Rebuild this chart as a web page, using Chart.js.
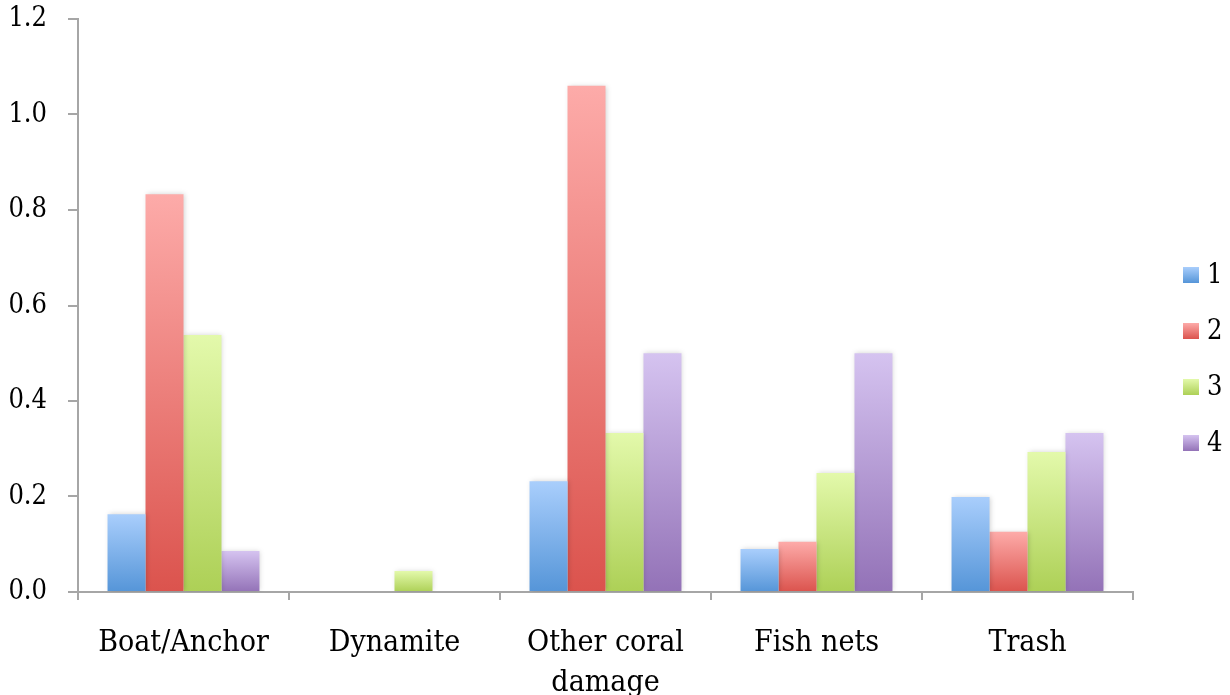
<!DOCTYPE html>
<html>
<head>
<meta charset="utf-8">
<script src="https://cdn.jsdelivr.net/npm/chart.js@4/dist/chart.umd.min.js"></script>
<style>
  html, body { margin: 0; padding: 0; background: #fff; }
  #wrap { width: 1230px; height: 695px; }
</style>
</head>
<body>
<div id="wrap"><canvas id="damageChart"></canvas></div>
<script>
// categories and series
var categories = ["Boat/Anchor", "Dynamite", ["Other coral", "damage"], "Fish nets", "Trash"];
var seriesNames = ["1", "2", "3", "4"];
var series1 = [0.163, 0, 0.232, 0.090, 0.199];
var series2 = [0.833, 0, 1.060, 0.105, 0.126];
var series3 = [0.538, 0.044, 0.333, 0.249, 0.293];
var series4 = [0.086, 0, 0.500, 0.500, 0.333];
var yTicks = [0, 0.2, 0.4, 0.6, 0.8, 1.0, 1.2];

// light top / dark bottom for each series
var topColors = ["#a9cefc", "#fdaba9", "#e3f9ab", "#d5c3f0"];
var bottomColors = ["#5595d8", "#db534d", "#add056", "#9372b7"];

var fontFamily = "'DejaVu Serif Condensed', 'DejaVu Serif', serif";
var axisGray = "#a6a6a6";

function barGradient(i) {
    return function (ctx) {
        var chart = ctx.chart;
        var y = chart.scales.y;
        if (!chart.chartArea || !y || ctx.raw === undefined) return bottomColors[i];
        var top = y.getPixelForValue(ctx.raw);
        var base = y.getPixelForValue(0);
        if (base - top < 1) return bottomColors[i];
        var g = chart.ctx.createLinearGradient(0, top, 0, base);
        g.addColorStop(0, topColors[i]);
        g.addColorStop(1, bottomColors[i]);
        return g;
    };
}

var allSeries = [series1, series2, series3, series4];
var datasets = allSeries.map(function (data, i) {
    return {
        label: seriesNames[i],
        data: data,
        backgroundColor: barGradient(i),
        borderWidth: 0,
        categoryPercentage: 0.72,
        barPercentage: 1.0
    };
});

// soft halo around the bars
var barShadow = {
    id: "barShadow",
    beforeDatasetsDraw: function (chart) {
        var c = chart.ctx;
        c.save();
        c.shadowColor = "rgba(0,0,0,0.18)";
        c.shadowBlur = 5;
        c.shadowOffsetX = 1;
        c.shadowOffsetY = 0;
    },
    afterDatasetsDraw: function (chart) {
        chart.ctx.restore();
    }
};

// legend on the right, drawn by hand so it can sit away from the plot
var sideLegend = {
    id: "sideLegend",
    afterDraw: function (chart) {
        var c = chart.ctx;
        var x = chart.chartArea.right + 50;
        var y0 = 275;
        var step = 56;
        c.save();
        c.font = "27px " + fontFamily;
        c.textBaseline = "middle";
        seriesNames.forEach(function (name, i) {
            var cy = y0 + i * step;
            var g = c.createLinearGradient(0, cy - 8, 0, cy + 8);
            g.addColorStop(0, topColors[i]);
            g.addColorStop(1, bottomColors[i]);
            c.fillStyle = g;
            c.fillRect(x, cy - 8, 16, 16);
            c.fillStyle = "#000";
            c.fillText(name, x + 24, cy + 1);
        });
        c.restore();
    }
};

new Chart(document.getElementById("damageChart").getContext("2d"), {
    type: "bar",
    data: { labels: categories, datasets: datasets },
    options: {
        responsive: true,
        maintainAspectRatio: false,
        animation: false,
        layout: { padding: { top: 19, right: 97, bottom: 0, left: 0 } },
        plugins: {
            legend: { display: false },
            tooltip: { enabled: false }
        },
        scales: {
            x: {
                grid: {
                    offset: true,
                    drawOnChartArea: false,
                    tickLength: 8,
                    color: axisGray,
                    lineWidth: 2
                },
                border: { color: axisGray, width: 2 },
                ticks: {
                    padding: 23,
                    color: "#000",
                    maxRotation: 0,
                    autoSkip: false,
                    font: { family: fontFamily, size: 30, lineHeight: 1.34 }
                },
                afterFit: function (scale) { scale.height = 103; }
            },
            y: {
                min: 0,
                max: 1.2,
                grid: {
                    drawOnChartArea: false,
                    tickLength: 10,
                    color: axisGray,
                    lineWidth: 2
                },
                border: { color: axisGray, width: 2 },
                afterBuildTicks: function (scale) {
                    scale.ticks = yTicks.map(function (v) { return { value: v }; });
                },
                ticks: {
                    padding: 21,
                    color: "#000",
                    font: { family: fontFamily, size: 27 },
                    callback: function (v) { return Number(v).toFixed(1); }
                },
                afterFit: function (scale) {
                    scale.width = 78;
                    scale.paddingTop = 0;
                    scale.paddingBottom = 0;
                }
            }
        }
    },
    plugins: [barShadow, sideLegend]
});
</script>
</body>
</html>
